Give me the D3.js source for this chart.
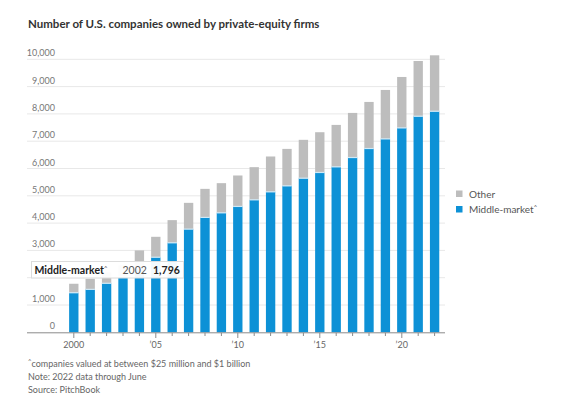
<!DOCTYPE html>
<html><head><meta charset="utf-8">
<script src="https://cdn.jsdelivr.net/npm/d3@7"></script>
<style>
body{margin:0;background:#fff}
svg{display:block}
text{font-family:Lato,"Noto Sans",sans-serif}
</style>
</head><body><svg id="c" width="570" height="409"></svg>
<script>
const years = [2000,2001,2002,2003,2004,2005,2006,2007,2008,2009,2010,2011,2012,2013,2014,2015,2016,2017,2018,2019,2020,2021,2022];
const middleMarket = [1449,1573,1796,2050,2330,2750,3278,3780,4208,4376,4610,4852,5145,5364,5645,5854,6060,6402,6732,7084,7487,7915,8097];
const other = [329,388,404,400,670,748,831,962,1046,1087,1134,1197,1295,1354,1405,1475,1537,1634,1706,1793,1866,2023,2049];
const yTicks = [0,1000,2000,3000,4000,5000,6000,7000,8000,9000,10000];
const labeledYears = [2000,2005,2010,2015,2020];
const xTickLabels = ["2000","\u201905","\u201910","\u201915","\u201920"];
const seriesNames = ["Middle-market","Other"];
const colors = {"Middle-market":"#0d91d6","Other":"#bdbdbd"};
const hoverIndex = 2; // tooltip shows 2002

const svg = d3.select("#c");
const x = d3.scaleBand().domain(years).range([65.6, 442.8]).paddingInner(0.43).paddingOuter(0.215);
const y = d3.scaleLinear().domain([0,10000]).range([332.3, 59.3]);

// title
svg.append("text").attr("x",28).attr("y",28).attr("font-size",11.5).attr("font-weight",700)
  .attr("fill","#333").text("Number of U.S. companies owned by private-equity firms");

// gridlines + y labels (the 2,000 label sits under the tooltip in the reference)
const g = svg.append("g");
g.selectAll("line.grid").data(yTicks.filter(d=>d>0)).join("line").attr("class","grid")
  .attr("x1",27).attr("x2",445).attr("y1",d=>y(d)).attr("y2",d=>y(d))
  .attr("stroke","#e8e8e8").attr("stroke-width",1);
g.selectAll("text.yl").data(yTicks.filter(d=>d!==2000)).join("text").attr("class","yl")
  .attr("x",55).attr("y",d=>y(d)-3).attr("text-anchor","end")
  .attr("font-size",9).attr("fill","#777").text(d=>d3.format(",")(d));

// stacked bars
const rows = years.map((yr,i)=>({year:yr,"Middle-market":middleMarket[i],"Other":other[i]}));
const stack = d3.stack().keys(seriesNames)(rows);
svg.append("g").selectAll("g").data(stack).join("g").attr("fill",d=>colors[d.key])
  .selectAll("rect").data(d=>d).join("rect")
  .attr("x",d=>x(d.data.year)).attr("width",x.bandwidth())
  .attr("y",d=>y(d[1])).attr("height",d=>y(d[0])-y(d[1]));
// separator between segments
svg.append("g").selectAll("line").data(stack[0]).join("line")
  .attr("x1",d=>x(d.data.year)).attr("x2",d=>x(d.data.year)+x.bandwidth())
  .attr("y1",d=>y(d[1])).attr("y2",d=>y(d[1]))
  .attr("stroke","#cfe9f7").attr("stroke-width",1.2);

// x axis
const xa = svg.append("g");
xa.append("line").attr("x1",27).attr("x2",445).attr("y1",332.8).attr("y2",332.8)
  .attr("stroke","#8a8a8a").attr("stroke-width",1);
xa.selectAll("line.tk").data(years).join("line").attr("class","tk")
  .attr("x1",d=>x(d)+x.bandwidth()/2).attr("x2",d=>x(d)+x.bandwidth()/2)
  .attr("y1",332.8).attr("y2",d=>labeledYears.includes(d)?338:336)
  .attr("stroke","#8a8a8a").attr("stroke-width",1);
xa.selectAll("text").data(labeledYears).join("text")
  .attr("x",d=>x(d)+x.bandwidth()/2).attr("y",348).attr("text-anchor","middle")
  .attr("font-size",9).attr("fill","#666").text((d,i)=>xTickLabels[i]);

// legend
const leg = svg.append("g");
const legItems = [{name:"Other",sup:""},{name:"Middle-market",sup:"^"}];
legItems.forEach((it,i)=>{
  const yy = 190.5 + i*15.5;
  leg.append("rect").attr("x",456).attr("y",yy).attr("width",6.5).attr("height",6.5).attr("fill",colors[it.name]);
  const t = leg.append("text").attr("x",469).attr("y",yy+7).attr("font-size",10).attr("fill","#555").text(it.name);
  if(it.sup) t.append("tspan").attr("font-size",6).attr("dy",-4).text(it.sup);
});

// tooltip
const tip = svg.append("g").attr("transform","translate(31.5,261.5)");
tip.append("rect").attr("width",152).attr("height",16.5).attr("fill","rgba(255,255,255,0.95)")
  .attr("stroke","#dcdcdc").attr("stroke-width",1);
const tt = tip.append("text").attr("x",3).attr("y",12).attr("font-size",10.5).attr("fill","#222");
tt.append("tspan").attr("font-weight",700).text("Middle-market");
tt.append("tspan").attr("font-size",6).attr("dy",-4).attr("fill","#555").text("^");
tip.append("text").attr("x",91).attr("y",12).attr("font-size",10.5).attr("fill","#555").text(years[hoverIndex]);
tip.append("text").attr("x",121.5).attr("y",12).attr("font-size",10.5).attr("font-weight",700).attr("fill","#222")
  .text(d3.format(",")(middleMarket[hoverIndex]));

// footnotes
const notes = ["^companies valued at between $25 million and $1 billion","Note: 2022 data through June","Source: PitchBook"];
svg.append("g").selectAll("text").data(notes).join("text")
  .attr("x",28).attr("y",(d,i)=>367+i*13).attr("font-size",9).attr("fill","#666")
  .each(function(d,i){
    const s=d3.select(this);
    if(i===0){ s.append("tspan").attr("font-size",6).attr("dy",-4).text("^"); s.append("tspan").attr("dy",4).text(d.slice(1)); }
    else s.text(d);
  });
</script>
</body></html>
